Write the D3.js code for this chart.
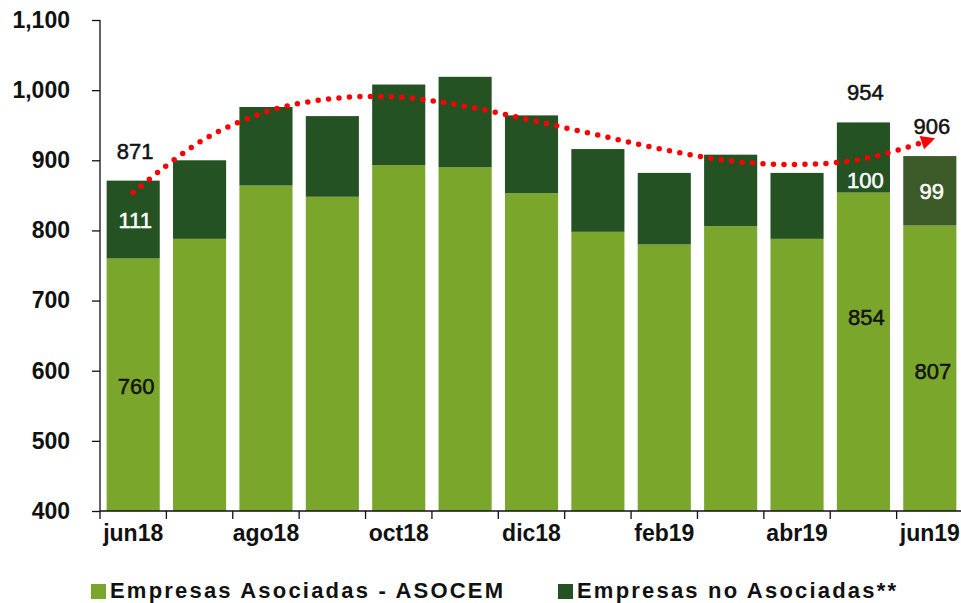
<!DOCTYPE html>
<html lang="es">
<head>
<meta charset="UTF-8">
<title>Despachos</title>
<style>
  body { margin: 0; background: #fff; }
  svg { display: block; font-family: Arial, "Liberation Sans", sans-serif; }
  .axis text { font-weight: bold; font-size: 23px; fill: #111; }
  .axis path, .axis line { stroke: #111; stroke-width: 1.3; }
  .lbl { font-size: 22px; text-anchor: middle; stroke-width: 0.5; }
  .legend text { font-weight: bold; font-size: 22px; letter-spacing: 2.2px; fill: #111; }
</style>
</head>
<body>
<svg id="chart"></svg>
<script src="https://cdnjs.cloudflare.com/ajax/libs/d3/7.9.0/d3.min.js"></script>
<script>
// values
const months = ["jun18", "jul18", "ago18", "sep18", "oct18", "nov18", "dic18",
                "ene19", "feb19", "mar19", "abr19", "may19", "jun19"];
const asociadas   = [760, 788, 864, 848, 893, 890, 853, 798, 780, 806, 788, 854, 807];
const noAsociadas = [111, 112, 112, 115, 115, 129, 111, 118, 102, 102, 94, 100, 99];
// dotted trend line (at each month)
const trend = [854, 926, 969, 988, 990, 977, 957, 936, 915, 899, 894, 902, 929];
const yTicks = [400, 500, 600, 700, 800, 900, 1000, 1100];
const labelled = ["jun18", "may19", "jun19"];
const seriesNames = ["Empresas Asociadas - ASOCEM", "Empresas no Asociadas**"];

const W = 961, H = 603;
const plotL = 100, plotR = 963, plotT = 20, plotB = 511;
const cLight = "#7ba62c", cDark = "#245222", cLast = "#3b5a27";

const svg = d3.select("#chart").attr("width", W).attr("height", H);

const x = d3.scaleBand().domain(months).range([plotL, plotR])
  .paddingInner(0.2).paddingOuter(0.1);
const y = d3.scaleLinear().domain([400, 1100]).range([plotB, plotT]);

const rows = months.map((m, i) => ({
  m, i, a: asociadas[i], n: noAsociadas[i], t: asociadas[i] + noAsociadas[i]
}));

// bars
svg.selectAll(".a").data(rows).enter().append("rect")
  .attr("x", d => x(d.m)).attr("width", x.bandwidth())
  .attr("y", d => y(d.a)).attr("height", d => y(400) - y(d.a))
  .attr("fill", cLight);
svg.selectAll(".n").data(rows).enter().append("rect")
  .attr("x", d => x(d.m)).attr("width", x.bandwidth())
  .attr("y", d => y(d.t)).attr("height", d => y(d.a) - y(d.t))
  .attr("fill", d => d.i === months.length - 1 ? cLast : cDark);

// y axis
svg.append("g").attr("class", "axis")
  .attr("transform", `translate(${plotL},0)`)
  .call(d3.axisLeft(y).tickValues(yTicks).tickSize(8).tickPadding(22)
    .tickFormat(d3.format(",")))
  .call(g => g.select(".domain").attr("d", `M0,${plotT}V${plotB}`));

// x axis: labels every other month, ticks on category boundaries
const xa = svg.append("g").attr("class", "axis")
  .attr("transform", `translate(0,${plotB})`);
xa.call(d3.axisBottom(x).tickValues(months.filter((m, i) => i % 2 === 0))
    .tickSize(0).tickPadding(14))
  .call(g => g.select(".domain").attr("d", `M${plotL},0H${plotR}`));
const step = x.step();
const bounds = months.map(m => x(m) - step * x.paddingInner() / 2);
bounds.push(bounds[bounds.length - 1] + step);
bounds[0] = plotL;
xa.selectAll(".bt").data(bounds).enter().append("line")
  .attr("x1", d => d).attr("x2", d => d).attr("y1", 0).attr("y2", 8)
  .attr("stroke", "#111").attr("stroke-width", 1.3);

// trend line
svg.append("defs").append("marker")
  .attr("id", "arrow").attr("viewBox", "0 0 10 10")
  .attr("refX", 6).attr("refY", 5)
  .attr("markerWidth", 17).attr("markerHeight", 14)
  .attr("markerUnits", "userSpaceOnUse")
  .attr("orient", "auto")
  .append("path").attr("d", "M0,0L10,5L0,10Z").attr("fill", "#ff0000");

const cx = m => x(m) + x.bandwidth() / 2;
const line = d3.line().x((d, i) => cx(months[i])).y(d => y(d))
  .curve(d3.curveCatmullRom);
svg.append("path").datum(trend)
  .attr("d", line)
  .attr("fill", "none").attr("stroke", "#ff0000")
  .attr("stroke-width", 5.5).attr("stroke-linecap", "round")
  .attr("stroke-dasharray", "0 10.5")
  .attr("marker-end", "url(#arrow)");

// value labels
const lab = rows.filter(d => labelled.includes(d.m));
svg.selectAll(".lt").data(lab).enter().append("text").attr("class", "lbl")
  .attr("x", d => cx(d.m) + 2).attr("y", d => y(d.t) - 22)
  .attr("fill", "#111").attr("stroke", "#111").text(d => d.t);
svg.selectAll(".ln").data(lab).enter().append("text").attr("class", "lbl")
  .attr("x", d => cx(d.m) + 2).attr("y", d => (y(d.t) + y(d.a)) / 2 + 8 + (d.i === 11 ? 23 : 0))
  .attr("fill", "#fff").attr("stroke", "#fff").text(d => d.n);
svg.selectAll(".la").data(lab).enter().append("text").attr("class", "lbl")
  .attr("x", d => cx(d.m) + 3).attr("y", d => y(d.a) + (d.i === 0 ? 136 : d.i === 11 ? 132 : 153))
  .attr("fill", "#111").attr("stroke", "#111").text(d => d.a);

// legend
const lg = svg.append("g").attr("class", "legend");
const legendX = [91, 558];
[cLight, cDark].forEach((c, i) => {
  lg.append("rect").attr("x", legendX[i]).attr("y", 584).attr("width", 15).attr("height", 15).attr("fill", c);
  lg.append("text").attr("x", legendX[i] + 19).attr("y", 598).text(seriesNames[i]);
});
</script>
</body>
</html>
